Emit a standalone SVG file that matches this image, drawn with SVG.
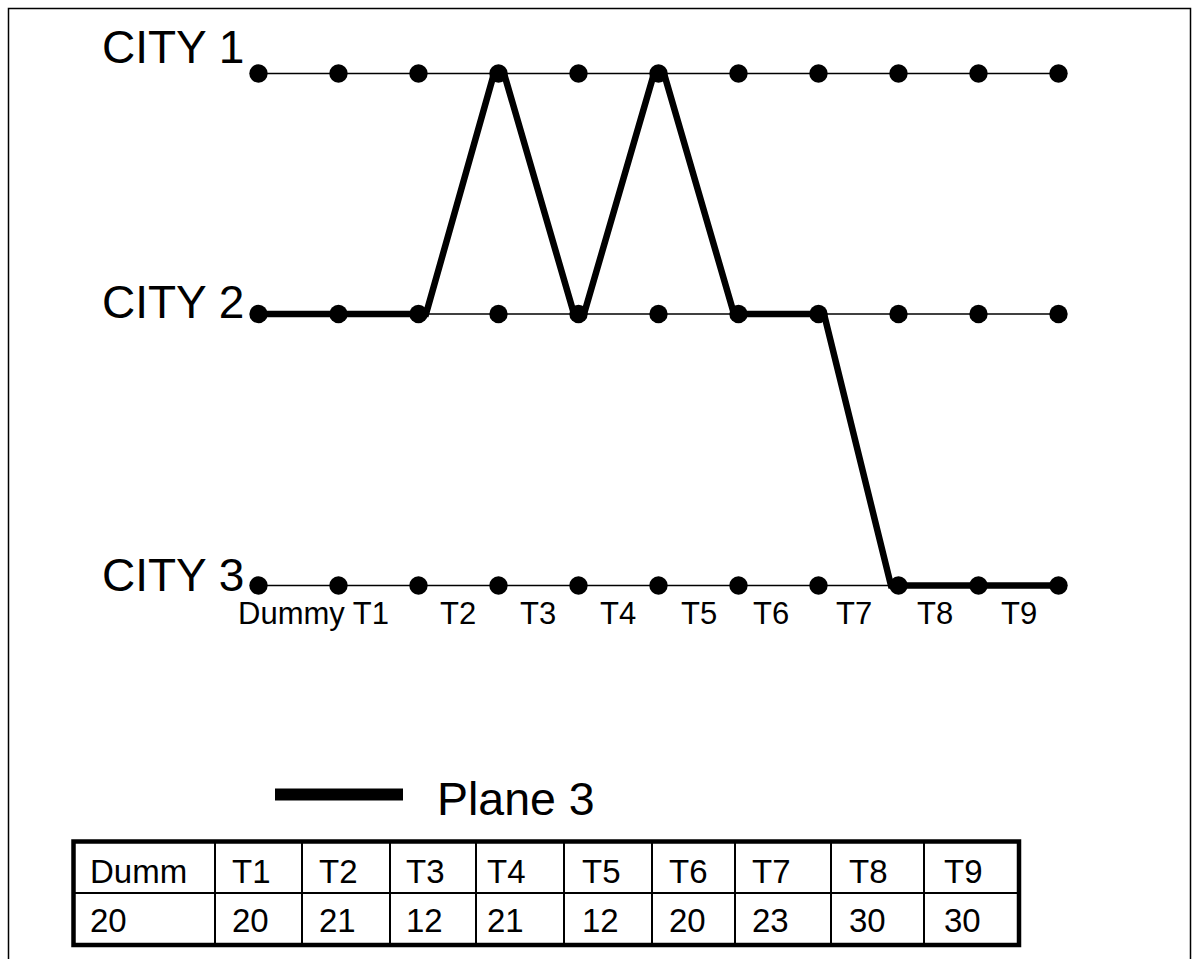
<svg xmlns="http://www.w3.org/2000/svg" width="1199" height="959" viewBox="0 0 1199 959">
  <style>
    .frame { fill: none; stroke: #000; stroke-width: 1.5; }
    .track { stroke: #000; stroke-width: 1.5; }
    .dot { fill: #000; }
    .route { fill: none; stroke: #000; stroke-width: 6.5; stroke-linejoin: miter; }
    .city { font-family: "Liberation Sans", Arial, sans-serif; font-size: 46px; fill: #000; }
    .tick { font-family: "Liberation Sans", Arial, sans-serif; font-size: 31px; fill: #000; }
    .legend { font-family: "Liberation Sans", Arial, sans-serif; font-size: 46.5px; fill: #000; }
    .cell { font-family: "Liberation Sans", Arial, sans-serif; font-size: 33px; fill: #000; }
    .outer { fill: none; stroke: #000; stroke-width: 4.5; }
    .inner { stroke: #000; stroke-width: 2; }
  </style>
  <defs>
    <circle id="pt" r="9.2" class="dot"/>
  </defs>

  <rect class="frame" x="8.5" y="8.5" width="1182" height="970"/>

  <!-- time-line tracks for each city -->
  <g id="connectors">
    <line class="track" x1="258.5" y1="73.5" x2="1058.5" y2="73.5"/>
    <line class="track" x1="258.5" y1="314" x2="1058.5" y2="314"/>
    <line class="track" x1="258.5" y1="585.5" x2="1058.5" y2="585.5"/>
    <!-- route flown by plane 3 -->
    <polyline id="plane3-route" class="route" points="258.5,314 426,314 494,73.5 504,73.5 574,314 584,314 654,73.5 664,73.5 734,314 824,314 891,585.5 1058.5,585.5"/>
  </g>

  <g id="city1">
    <text class="city" x="102" y="63">CITY 1</text>
    <use href="#pt" x="258.5" y="73.5"/><use href="#pt" x="338.5" y="73.5"/><use href="#pt" x="418.5" y="73.5"/>
    <use href="#pt" x="498.5" y="73.5"/><use href="#pt" x="578.5" y="73.5"/><use href="#pt" x="658.5" y="73.5"/>
    <use href="#pt" x="738.5" y="73.5"/><use href="#pt" x="818.5" y="73.5"/><use href="#pt" x="898.5" y="73.5"/>
    <use href="#pt" x="978.5" y="73.5"/><use href="#pt" x="1058.5" y="73.5"/>
  </g>

  <g id="city2">
    <text class="city" x="102" y="318">CITY 2</text>
    <use href="#pt" x="258.5" y="314"/><use href="#pt" x="338.5" y="314"/><use href="#pt" x="418.5" y="314"/>
    <use href="#pt" x="498.5" y="314"/><use href="#pt" x="578.5" y="314"/><use href="#pt" x="658.5" y="314"/>
    <use href="#pt" x="738.5" y="314"/><use href="#pt" x="818.5" y="314"/><use href="#pt" x="898.5" y="314"/>
    <use href="#pt" x="978.5" y="314"/><use href="#pt" x="1058.5" y="314"/>
  </g>

  <g id="city3">
    <text class="city" x="102" y="591">CITY 3</text>
    <use href="#pt" x="258.5" y="585.5"/><use href="#pt" x="338.5" y="585.5"/><use href="#pt" x="418.5" y="585.5"/>
    <use href="#pt" x="498.5" y="585.5"/><use href="#pt" x="578.5" y="585.5"/><use href="#pt" x="658.5" y="585.5"/>
    <use href="#pt" x="738.5" y="585.5"/><use href="#pt" x="818.5" y="585.5"/><use href="#pt" x="898.5" y="585.5"/>
    <use href="#pt" x="978.5" y="585.5"/><use href="#pt" x="1058.5" y="585.5"/>
  </g>

  <g id="time-labels">
    <text class="tick" x="238" y="624">Dummy T1</text>
    <text class="tick" x="440" y="624">T2</text>
    <text class="tick" x="520" y="624">T3</text>
    <text class="tick" x="600" y="624">T4</text>
    <text class="tick" x="681" y="624">T5</text>
    <text class="tick" x="753" y="624">T6</text>
    <text class="tick" x="836" y="624">T7</text>
    <text class="tick" x="917" y="624">T8</text>
    <text class="tick" x="1001" y="624">T9</text>
  </g>

  <g id="legend">
    <line x1="275" y1="794.5" x2="403" y2="794.5" stroke="#000" stroke-width="12"/>
    <text class="legend" x="437" y="815">Plane 3</text>
  </g>

  <g id="schedule-table">
    <rect class="outer" x="73.5" y="841.5" width="945.5" height="103.5"/>
    <line class="inner" x1="73.5" y1="893" x2="1019" y2="893"/>
    <line class="inner" x1="215" y1="841.5" x2="215" y2="945"/>
    <line class="inner" x1="302" y1="841.5" x2="302" y2="945"/>
    <line class="inner" x1="390" y1="841.5" x2="390" y2="945"/>
    <line class="inner" x1="476" y1="841.5" x2="476" y2="945"/>
    <line class="inner" x1="564" y1="841.5" x2="564" y2="945"/>
    <line class="inner" x1="652" y1="841.5" x2="652" y2="945"/>
    <line class="inner" x1="735" y1="841.5" x2="735" y2="945"/>
    <line class="inner" x1="831" y1="841.5" x2="831" y2="945"/>
    <line class="inner" x1="924" y1="841.5" x2="924" y2="945"/>
    <text class="cell" x="90" y="883">Dumm</text>
    <text class="cell" x="232" y="883">T1</text>
    <text class="cell" x="319" y="883">T2</text>
    <text class="cell" x="406" y="883">T3</text>
    <text class="cell" x="487" y="883">T4</text>
    <text class="cell" x="582" y="883">T5</text>
    <text class="cell" x="669" y="883">T6</text>
    <text class="cell" x="752" y="883">T7</text>
    <text class="cell" x="849" y="883">T8</text>
    <text class="cell" x="944" y="883">T9</text>
    <text class="cell" x="90" y="932">20</text>
    <text class="cell" x="232" y="932">20</text>
    <text class="cell" x="319" y="932">21</text>
    <text class="cell" x="406" y="932">12</text>
    <text class="cell" x="487" y="932">21</text>
    <text class="cell" x="582" y="932">12</text>
    <text class="cell" x="669" y="932">20</text>
    <text class="cell" x="752" y="932">23</text>
    <text class="cell" x="849" y="932">30</text>
    <text class="cell" x="944" y="932">30</text>
  </g>
</svg>
